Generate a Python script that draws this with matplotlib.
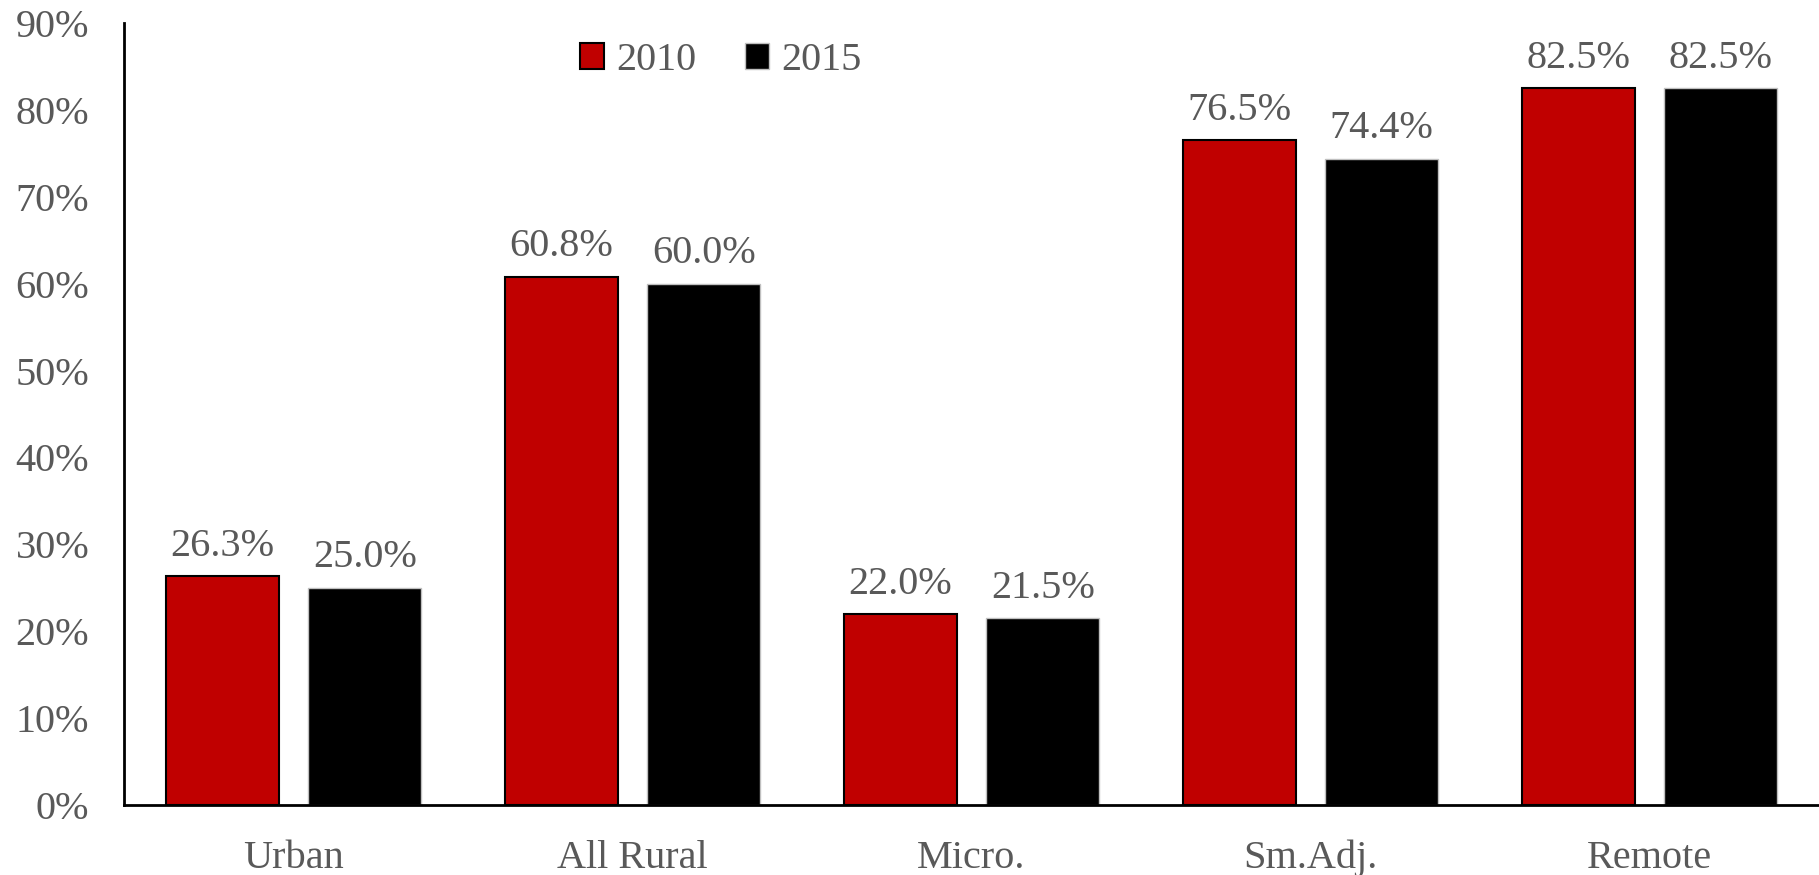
import numpy as np
import matplotlib.pyplot as plt
from matplotlib.ticker import PercentFormatter

# 도시/농촌 구분별 비율 (2010 vs 2015)
categories = ["Urban", "All Rural", "Micro.", "Sm.Adj.", "Remote"]
vals_2010 = [26.3, 60.8, 22.0, 76.5, 82.5]
vals_2015 = [25.0, 60.0, 21.5, 74.4, 82.5]

plt.rcParams['font.family'] = ['Liberation Serif', 'DejaVu Serif']
txt = "#595959"
fs = 29

fig = plt.figure(figsize=(18.19, 8.75), dpi=100)
ax = fig.add_axes([0.0682, 0.08, 0.9318, 0.8937])

x = np.arange(len(categories))
w = 0.332
off = 0.21
b1 = ax.bar(x - off, vals_2010, w, color="#C00000", edgecolor="black", linewidth=1.5, label="2010")
b2 = ax.bar(x + off, vals_2015, w, color="black", edgecolor="#BFBFBF", linewidth=1.0, label="2015")

for bars in (b1, b2):
    for r in bars:
        h = r.get_height()
        ax.text(r.get_x() + r.get_width()/2, h + 1.3, f"{h:.1f}%",
                ha="center", va="bottom", fontsize=fs, color=txt)

ax.set_xlim(-0.5, len(categories) - 0.5)
ax.set_ylim(0, 90)
ax.set_yticks(np.arange(0, 91, 10))
ax.yaxis.set_major_formatter(PercentFormatter(decimals=0))
ax.set_xticks(x)
ax.set_xticklabels(categories)
ax.tick_params(axis="both", length=0, labelsize=fs, labelcolor=txt)
ax.tick_params(axis="y", pad=25)
ax.tick_params(axis="x", pad=25)

for s in ("top", "right"):
    ax.spines[s].set_visible(False)
for s in ("left", "bottom"):
    ax.spines[s].set_linewidth(2)
    ax.spines[s].set_color("black")

ax.legend(loc="upper center", bbox_to_anchor=(0.352, 1.022), ncol=2, frameon=False,
          fontsize=fs, labelcolor=txt, handlelength=0.6, handleheight=0.6,
          handletextpad=0.3, columnspacing=1.2)

fig.savefig("out.png", dpi=100)
